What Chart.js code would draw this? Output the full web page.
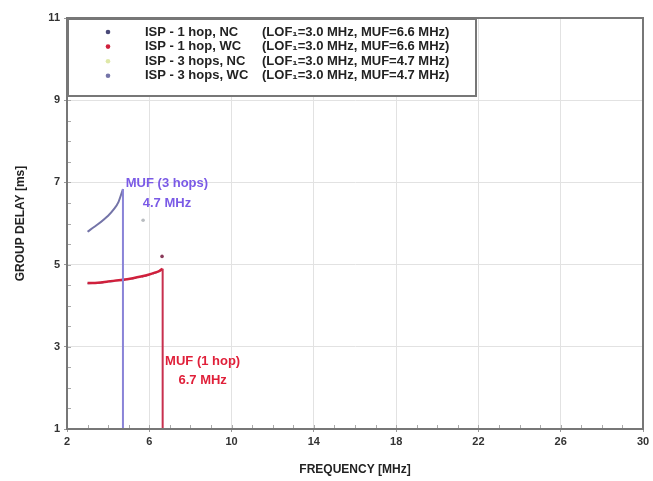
<!DOCTYPE html>
<html>
<head>
<meta charset="utf-8">
<script src="https://cdn.jsdelivr.net/npm/chart.js@4.4.1/dist/chart.umd.min.js"></script>
<style>
  html, body { margin: 0; padding: 0; background: #fff; }
  #wrap { width: 653px; height: 481px; }
</style>
</head>
<body>
<div id="wrap"><canvas id="delayChart" width="653" height="481"></canvas></div>
<script>
// Data
const xTicks = [2, 6, 10, 14, 18, 22, 26, 30];
const yTicks = [1, 3, 5, 7, 9, 11];

const freq1Hop = [3.0, 3.5, 4.0, 4.7, 5.2, 5.6, 6.0, 6.3, 6.5, 6.65];
const delay1HopWC = [4.55, 4.56, 4.59, 4.63, 4.67, 4.71, 4.76, 4.81, 4.85, 4.90];
const delay1HopNC = [4.54, 4.55, 4.58, 4.62, 4.66, 4.70, 4.75, 4.80, 4.84, 4.89];

const freq3Hop = [3.0, 3.5, 4.0, 4.3, 4.5, 4.72];
const delay3HopWC = [5.80, 5.98, 6.19, 6.36, 6.52, 6.84];

const strayFreq = [5.7, 6.62];
const strayDelay = [6.08, 5.2];

const muf1 = 6.65, muf3 = 4.72;

const seriesNames = ['ISP - 1 hop, NC', 'ISP - 1 hop, WC', 'ISP - 3 hops, NC', 'ISP - 3 hops, WC'];
const seriesNotes = ['(LOF\u2081=3.0 MHz, MUF=6.6 MHz)', '(LOF\u2081=3.0 MHz, MUF=6.6 MHz)',
                     '(LOF\u2081=3.0 MHz, MUF=4.7 MHz)', '(LOF\u2081=3.0 MHz, MUF=4.7 MHz)'];
const seriesColors = ['#4a4a78', '#d0203c', '#dfe8a8', '#7474a8'];

function pts(xs, ys) { return xs.map((x, i) => ({x: x, y: ys[i]})); }

const font = '"Liberation Sans", Arial, sans-serif';

// frame, minor ticks, legend box and MUF notes
const extras = {
    id: 'extras',
    afterDraw(chart) {
        const c = chart.ctx, xs = chart.scales.x, ys = chart.scales.y, a = chart.chartArea;
        c.save();
        // minor ticks
        c.strokeStyle = '#aaa';
        c.lineWidth = 1;
        for (let v = 3; v < 30; v++) {
            const px = Math.round(xs.getPixelForValue(v)) + 0.5;
            c.beginPath(); c.moveTo(px, a.bottom); c.lineTo(px, a.bottom - 4); c.stroke();
        }
        for (let v = 1.5; v < 11; v += 0.5) {
            const py = Math.round(ys.getPixelForValue(v)) + 0.5;
            c.beginPath(); c.moveTo(a.left, py); c.lineTo(a.left + 4, py); c.stroke();
        }
        // frame
        c.strokeStyle = '#777';
        c.lineWidth = 2;
        c.strokeRect(a.left, a.top, a.right - a.left, a.bottom - a.top);
        // legend box
        const bx = a.left, by = a.top, bw = 410, bh = 79;
        c.fillStyle = '#fff';
        c.fillRect(bx, by, bw, bh);
        c.strokeRect(bx + 1, by + 1, bw - 2, bh - 2);
        c.font = 'bold 13px ' + font;
        c.textBaseline = 'middle';
        seriesNames.forEach((n, i) => {
            const yy = by + 14 + i * 14.6;
            c.fillStyle = seriesColors[i];
            c.beginPath();
            c.arc(bx + 41, yy, 2.3, 0, Math.PI * 2);
            c.fill();
            c.fillStyle = '#222';
            c.textAlign = 'left';
            c.fillText(n, bx + 78, yy);
            c.fillText(seriesNotes[i], bx + 195, yy);
        });
        // MUF annotations
        c.font = 'bold 13px ' + font;
        c.textAlign = 'center';
        c.fillStyle = '#7a5ae6';
        const x3 = xs.getPixelForValue(muf3) + 44;
        c.fillText('MUF (3 hops)', x3, ys.getPixelForValue(6.98));
        c.fillText('4.7 MHz', x3, ys.getPixelForValue(6.5));
        c.fillStyle = '#e0203a';
        const x1 = xs.getPixelForValue(muf1) + 40;
        c.fillText('MUF (1 hop)', x1, ys.getPixelForValue(2.64));
        c.fillText('6.7 MHz', x1, ys.getPixelForValue(2.18));
        c.restore();
    }
};

new Chart(document.getElementById('delayChart'), {
    type: 'scatter',
    data: {
        datasets: [
            { label: 'MUF 3', data: [{x: muf3, y: delay3HopWC[delay3HopWC.length - 1]}, {x: muf3, y: 1}],
              showLine: true, borderColor: '#8a84d8', borderWidth: 2, pointRadius: 0 },
            { label: 'MUF 1', data: [{x: muf1, y: delay1HopWC[delay1HopWC.length - 1]}, {x: muf1, y: 1}],
              showLine: true, borderColor: '#c8304e', borderWidth: 2, pointRadius: 0 },
            { label: seriesNames[3], data: pts(freq3Hop, delay3HopWC), showLine: true,
              borderColor: seriesColors[3], borderWidth: 2, pointRadius: 0, tension: 0.2 },
            { label: seriesNames[1], data: pts(freq1Hop, delay1HopWC), showLine: true,
              borderColor: seriesColors[1], borderWidth: 2.5, pointRadius: 0, tension: 0.3 },
            { label: seriesNames[0], data: pts(freq1Hop, delay1HopNC), showLine: true,
              borderColor: seriesColors[0], borderWidth: 1.5, borderDash: [5, 6], pointRadius: 0, tension: 0.3 },
            { label: 'stray', data: pts(strayFreq, strayDelay),
              pointRadius: 1.8, pointBackgroundColor: ['#b8bcc0', '#8a3a5a'], pointBorderWidth: 0 }
        ]
    },
    options: {
        responsive: false,
        animation: false,
        layout: { padding: { top: 18, right: 10, left: 0, bottom: 0 } },
        plugins: { legend: { display: false }, tooltip: { enabled: false } },
        scales: {
            x: {
                type: 'linear', min: 2, max: 30,
                afterBuildTicks: s => { s.ticks = xTicks.map(v => ({value: v})); },
                afterFit: s => { s.height = 52; },
                grid: { color: '#e2e2e2', tickLength: 3, tickColor: '#999' },
                border: { color: '#777', width: 2 },
                ticks: { color: '#333', font: { size: 11, weight: 'bold', family: font }, padding: 3 },
                title: { display: true, text: 'FREQUENCY [MHz]', color: '#222', padding: { top: 0, bottom: 4 },
                         font: { size: 12, weight: 'bold', family: font } }
            },
            y: {
                type: 'linear', min: 1, max: 11,
                afterBuildTicks: s => { s.ticks = yTicks.map(v => ({value: v})); },
                afterFit: s => { s.width = 67; },
                grid: { color: '#e2e2e2', tickLength: 3, tickColor: '#999' },
                border: { color: '#777', width: 2 },
                ticks: { color: '#333', font: { size: 11, weight: 'bold', family: font }, padding: 4 },
                title: { display: true, text: 'GROUP DELAY [ms]', color: '#222', padding: { top: 13, bottom: 0 },
                         font: { size: 12, weight: 'bold', family: font } }
            }
        }
    },
    plugins: [extras]
});
</script>
</body>
</html>
